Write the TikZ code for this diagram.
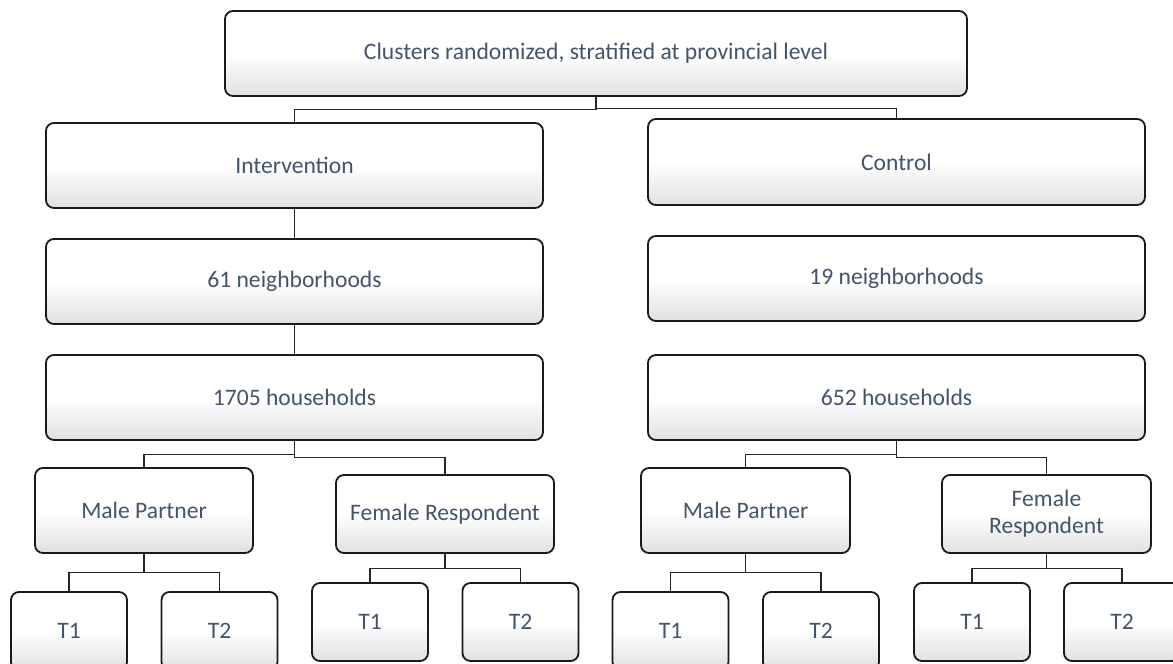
\documentclass[tikz,border=0pt]{standalone}
\usepackage{fontspec}
\setmainfont{Carlito}
\definecolor{txtblue}{HTML}{44546A}
\definecolor{edge}{HTML}{1A1A1A}
\begin{document}
\begin{tikzpicture}[x=1pt,y=-1pt,
  box/.style={draw=edge, line width=1.8pt, rounded corners=8pt,
    top color=white, bottom color=black!12, middle color=white,
    inner sep=0pt, text=txtblue, align=center,
    font=\fontsize{23.6}{27}\selectfont},
  conn/.style={draw=black!85, line width=1.1pt}]
\useasboundingbox (0,0) rectangle (1173,664);
\clip (0,0) rectangle (1173,664);
% level 0
\node[box, minimum width=742pt, minimum height=85pt] (top) at (596,53.5) {Clusters randomized, stratified at provincial level};
% level 1
\node[box, minimum width=497pt, minimum height=85pt] (interv) at (294.5,165.5) {Intervention};
\node[box, minimum width=497pt, minimum height=86pt] (control) at (896.5,162) {Control};
% level 2
\node[box, minimum width=497pt, minimum height=85pt] (n61) at (294.5,281.5) {61 neighborhoods};
\node[box, minimum width=497pt, minimum height=85pt] (n19) at (896.5,278.5) {19 neighborhoods};
% level 3
\node[box, minimum width=497pt, minimum height=85pt] (h1705) at (294.5,397.5) {1705 households};
\node[box, minimum width=497pt, minimum height=85pt] (h652) at (896.5,397.5) {652 households};
% level 4
\node[box, minimum width=218pt, minimum height=85pt] (mpL) at (144,510.5) {Male Partner};
\node[box, minimum width=218pt, minimum height=78pt] (frL) at (445,514) {Female Respondent};
\node[box, minimum width=209pt, minimum height=85pt] (mpR) at (745.5,510.5) {Male Partner};
\node[box, minimum width=209pt, minimum height=78pt] (frR) at (1046.5,514) {Female\\Respondent};
% level 5
\node[box, minimum width=116pt, minimum height=78pt] (mpLt1) at (69,631) {T1};
\node[box, minimum width=116pt, minimum height=78pt] (mpLt2) at (219.5,631) {T2};
\node[box, minimum width=116pt, minimum height=78pt] (frLt1) at (370,622) {T1};
\node[box, minimum width=116pt, minimum height=78pt] (frLt2) at (520.5,622) {T2};
\node[box, minimum width=116pt, minimum height=78pt] (mpRt1) at (670.5,631) {T1};
\node[box, minimum width=116pt, minimum height=78pt] (mpRt2) at (821,631) {T2};
\node[box, minimum width=116pt, minimum height=78pt] (frRt1) at (972,622) {T1};
\node[box, minimum width=116pt, minimum height=78pt] (frRt2) at (1122,622) {T2};
% connectors
\draw[conn] (top.south) -- ++(0,13) -| (interv.north);
\draw[conn] (top.south) -- ++(0,12) -| (control.north);
\draw[conn] (interv.south) -- (n61.north);
\draw[conn] (n61.south) -- (h1705.north);
\draw[conn] (h1705.south) -- ++(0,14) -| (mpL.north);
\draw[conn] (h1705.south) -- ++(0,17) -| (frL.north);
\draw[conn] (h652.south) -- ++(0,14) -| (mpR.north);
\draw[conn] (h652.south) -- ++(0,17) -| (frR.north);
\draw[conn] (mpL.south) -- ++(0,19) -| (mpLt1.north);
\draw[conn] (mpL.south) -- ++(0,19) -| (mpLt2.north);
\draw[conn] (frL.south) -- ++(0,15) -| (frLt1.north);
\draw[conn] (frL.south) -- ++(0,15) -| (frLt2.north);
\draw[conn] (mpR.south) -- ++(0,19) -| (mpRt1.north);
\draw[conn] (mpR.south) -- ++(0,19) -| (mpRt2.north);
\draw[conn] (frR.south) -- ++(0,15) -| (frRt1.north);
\draw[conn] (frR.south) -- ++(0,15) -| (frRt2.north);
\end{tikzpicture}
\end{document}
